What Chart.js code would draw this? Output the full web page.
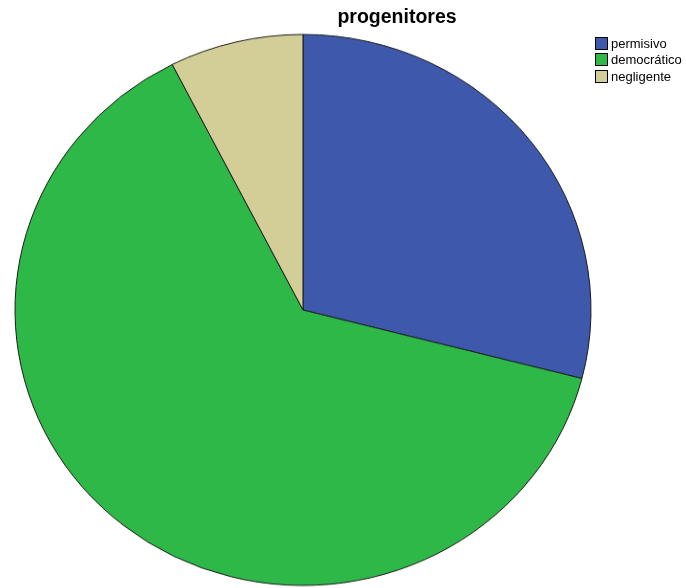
<!DOCTYPE html>
<html><head><meta charset="utf-8">
<script src="https://cdn.jsdelivr.net/npm/chart.js@4/dist/chart.umd.min.js"></script>
<style>
html,body{margin:0;padding:0;background:#fff;overflow:hidden;width:686px;height:588px;}
#wrap{position:relative;width:686px;height:588px;overflow:hidden;}
#cv{position:absolute;left:0;top:0;width:686px;height:648px;transform:scaleY(0.9566);transform-origin:0 0;}
#title{position:absolute;left:297px;width:200px;top:5px;text-align:center;font:bold 19.5px "Liberation Sans",Arial,sans-serif;color:#000;z-index:2;}
#legend{position:absolute;left:595px;top:35px;font:13px "Liberation Sans",Arial,sans-serif;color:#000;z-index:2;}
.item{display:flex;align-items:center;height:16.5px;}
.box{width:13px;height:13px;border:1px solid #000;margin-right:3px;box-sizing:border-box;}
</style></head>
<body><div id="wrap">
<div id="cv"><canvas id="c" width="686" height="648"></canvas></div>
<div id="title">progenitores</div>
<div id="legend"></div>
</div>
<script>
const categories = ["permisivo", "democrático", "negligente"];
const values = [29.0, 63.5, 7.5];
const colors = ["#3e58ac", "#2eb848", "#d3ce97"];

const leg = document.getElementById('legend');
categories.forEach((c, i) => {
  const d = document.createElement('div'); d.className = 'item';
  const b = document.createElement('div'); b.className = 'box'; b.style.background = colors[i];
  const t = document.createElement('span'); t.textContent = c;
  d.appendChild(b); d.appendChild(t); leg.appendChild(d);
});

new Chart(document.getElementById('c'), {
  type: 'pie',
  data: { labels: categories, datasets: [{ data: values, backgroundColor: colors, borderColor: '#1a1a1a', borderWidth: 1 }] },
  options: {
    responsive: false, animation: false,
    radius: 288,
    layout: { padding: { left: 0, right: 80, top: 0, bottom: 0 } },
    plugins: { legend: { display: false }, tooltip: { enabled: false }, title: { display: false } }
  }
});
</script>
</body></html>
